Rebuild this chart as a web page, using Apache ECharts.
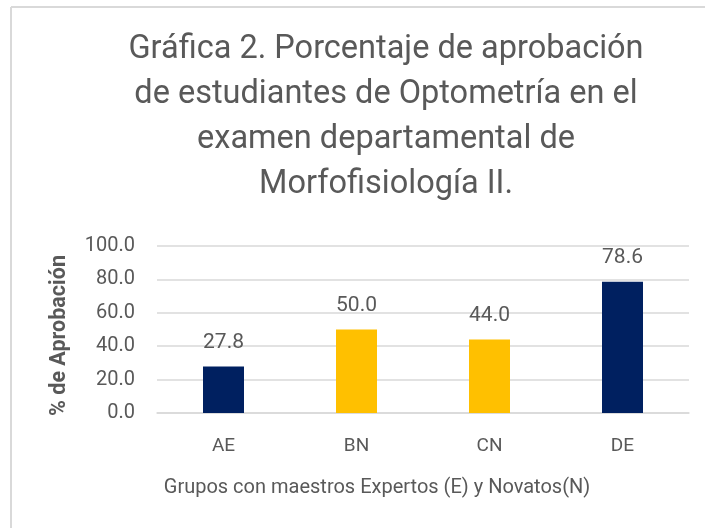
<!DOCTYPE html>
<html>
<head>
<meta charset="utf-8">
<script src="https://cdn.jsdelivr.net/npm/echarts@6/dist/echarts.min.js"></script>
<style>
  html, body { margin: 0; padding: 0; background: #fff; }
  #chart { width: 705px; height: 528px; }
</style>
</head>
<body>
<div id="chart"></div>
<script>
// data
const grupos = ["AE", "BN", "CN", "DE"];
const aprobacion = [27.8, 50.0, 44.0, 78.6];
const yTicks = [0, 20, 40, 60, 80, 100];

// colores: expertos en azul, novatos en amarillo
const barColors = ["#002060", "#FFC000", "#FFC000", "#002060"];

const textGray = "#595959";
const lineGray = "#d9d9d9";
const font = "Roboto, 'Open Sans', sans-serif";

const chart = echarts.init(document.getElementById("chart"));

chart.setOption({
  animation: false,
  backgroundColor: "#fff",
  title: {
    text: "Gráfica 2. Porcentaje de aprobación\nde estudiantes de Optometría en el\nexamen departamental de\nMorfofisiología II.",
    left: 381,
    top: 22,
    textAlign: "center",
    textStyle: {
      fontFamily: font,
      fontSize: 32.5,
      fontWeight: "normal",
      color: textGray,
      lineHeight: 45
    }
  },
  graphic: [
    { type: "line", shape: { x1: 11, y1: 7, x2: 705, y2: 7 }, style: { stroke: lineGray, lineWidth: 2 } },
    { type: "line", shape: { x1: 11, y1: 7, x2: 11, y2: 528 }, style: { stroke: lineGray, lineWidth: 2 } }
  ],
  grid: { left: 157, right: 16, top: 246, bottom: 115 },
  xAxis: {
    type: "category",
    data: grupos,
    axisTick: { show: false },
    axisLine: { lineStyle: { color: lineGray, width: 1.5 } },
    axisLabel: { color: textGray, fontFamily: font, fontSize: 19, margin: 24 },
    name: "Grupos con maestros Expertos (E) y Novatos(N)",
    nameLocation: "middle",
    nameGap: 65,
    nameTextStyle: {
      color: textGray,
      fontFamily: font,
      fontSize: 20,
      padding: [0, 92, 0, 0]
    }
  },
  yAxis: {
    type: "value",
    min: yTicks[0],
    max: yTicks[yTicks.length - 1],
    interval: yTicks[1] - yTicks[0],
    axisLine: { show: false },
    axisTick: { show: false },
    splitLine: { lineStyle: { color: lineGray, width: 1.5 } },
    axisLabel: {
      color: textGray,
      fontFamily: font,
      fontSize: 20,
      margin: 22,
      formatter: (v) => v.toFixed(1)
    },
    name: "% de Aprobación",
    nameLocation: "middle",
    nameRotate: 90,
    nameGap: 86,
    nameTextStyle: {
      color: textGray,
      fontFamily: font,
      fontSize: 21.5,
      fontWeight: "bold",
      padding: [0, 12, 0, 0]
    }
  },
  series: [
    {
      type: "bar",
      barWidth: 41,
      data: aprobacion.map((v, i) => ({ value: v, itemStyle: { color: barColors[i] } })),
      label: {
        show: true,
        position: "top",
        distance: 13,
        color: textGray,
        fontFamily: font,
        fontSize: 21,
        formatter: (p) => p.value.toFixed(1)
      }
    }
  ]
});
</script>
</body>
</html>
